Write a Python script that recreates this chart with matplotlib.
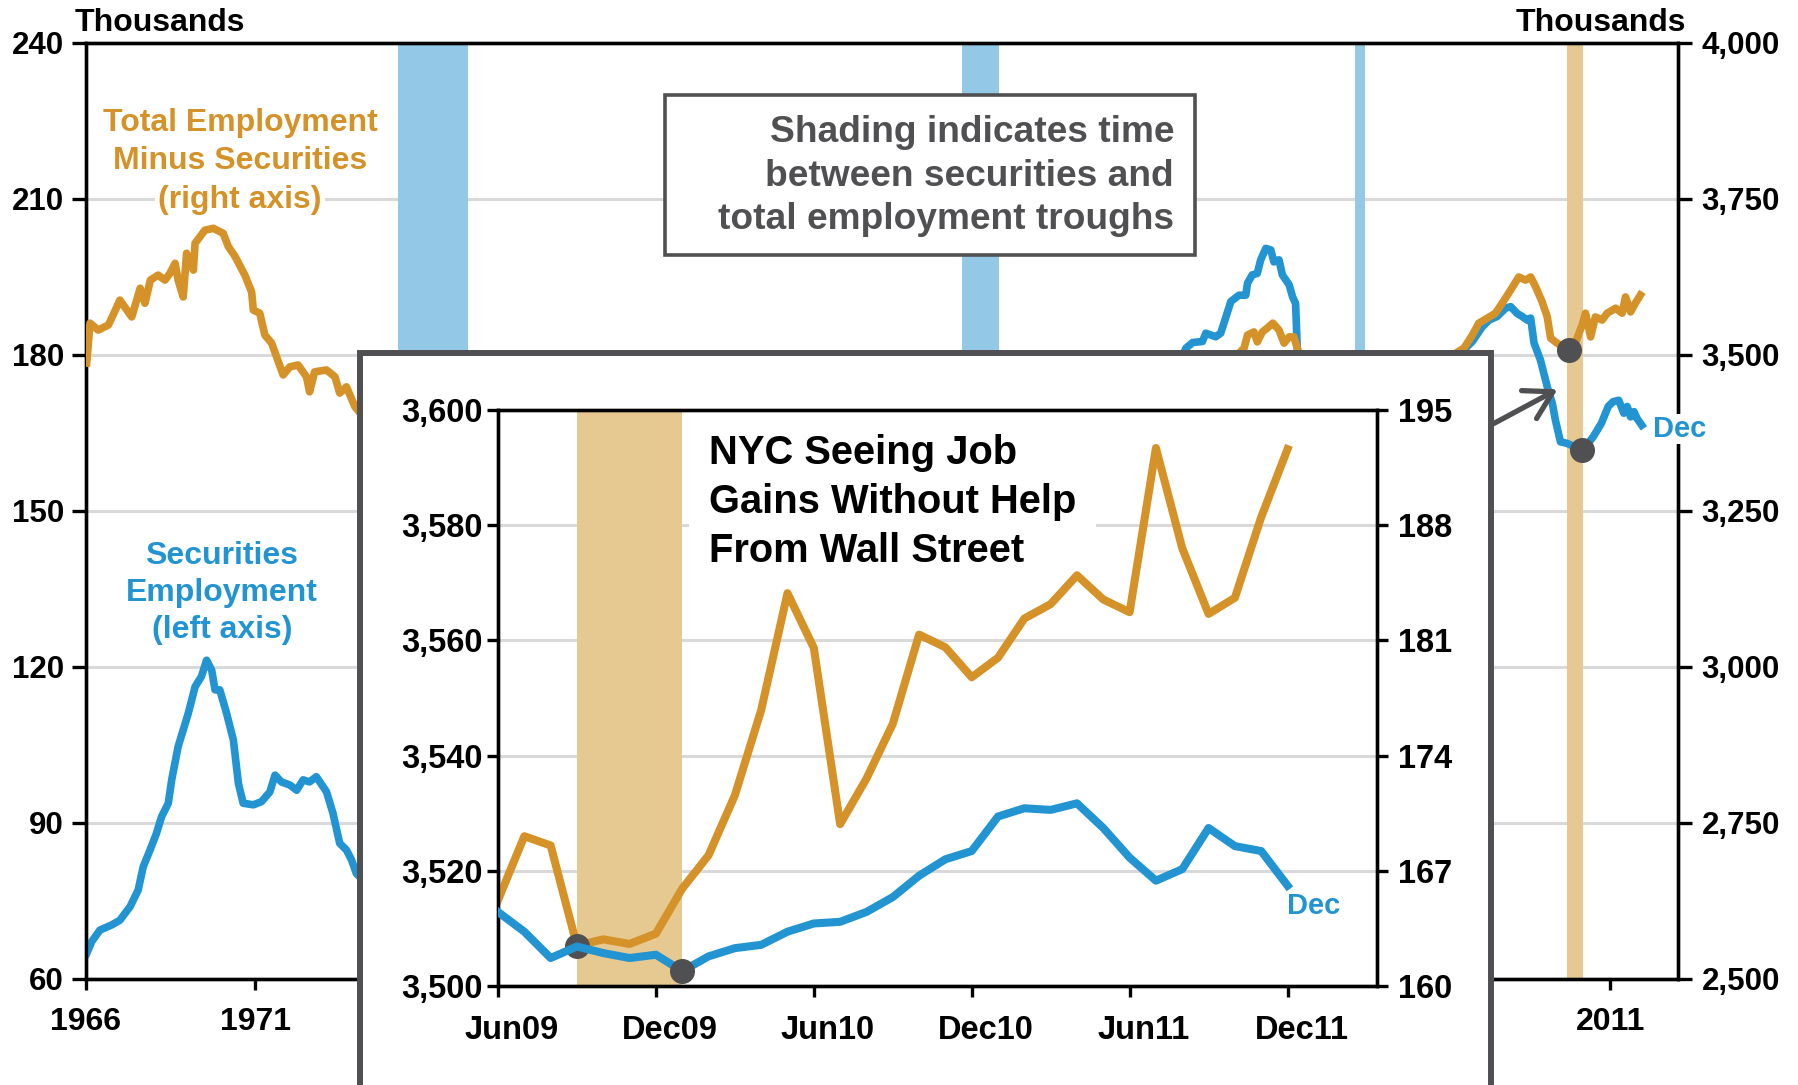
import numpy as np
import matplotlib.pyplot as plt
from matplotlib.patches import Rectangle, FancyArrowPatch
from matplotlib.ticker import FuncFormatter
from matplotlib.transforms import ScaledTranslation

plt.rcParams['font.family'] = ['Liberation Sans', 'DejaVu Sans']
plt.rcParams['font.weight'] = 'bold'

## --- main chart: securities employment (left axis, thousands) ---
sec_years = [1966.02, 1966.17, 1966.41, 1966.76, 1967.00, 1967.30, 1967.54, 1967.69, 1967.89,
             1968.08, 1968.23, 1968.43, 1968.53, 1968.72, 1969.02, 1969.22, 1969.41, 1969.56,
             1969.71, 1969.81, 1969.95, 1970.15, 1970.35, 1970.50, 1970.64, 1970.94, 1971.18,
             1971.43, 1971.58, 1971.77, 1972.02, 1972.22, 1972.41, 1972.60, 1972.80, 1973.10,
             1973.29, 1973.49, 1973.69, 1973.84, 1973.98,
             1974.5, 1975.2, 1976.0, 1977.0, 1978.0, 1979.0, 1980.0, 1981.0, 1982.0, 1983.0,
             1984.0, 1985.0, 1986.0, 1987.0, 1987.8, 1988.5, 1989.5, 1990.5, 1991.85, 1992.5,
             1993.5, 1994.5, 1995.5, 1996.5, 1997.5, 1998.2,
             1998.47, 1998.67, 1998.96, 1999.06, 1999.35, 1999.50, 1999.80, 2000.04, 2000.24,
             2000.29, 2000.43, 2000.58, 2000.68, 2000.83, 2000.98, 2001.07, 2001.22, 2001.32,
             2001.52, 2001.62, 2001.71, 2001.76,
             2001.9, 2002.5, 2003.45, 2004.5, 2005.5, 2006.3,
             2006.68, 2006.93, 2007.22, 2007.42, 2007.66, 2007.91, 2008.06, 2008.25, 2008.40,
             2008.55, 2008.65, 2008.75, 2008.94, 2009.14, 2009.29, 2009.38, 2009.53, 2009.73,
             2009.93, 2010.17, 2010.31, 2010.50, 2010.74, 2010.94, 2011.08, 2011.25, 2011.40,
             2011.50, 2011.60, 2011.70, 2011.79, 2011.93]
sec_vals = [64.9, 67.2, 69.4, 70.4, 71.3, 73.9, 77.1, 81.6, 84.8,
            88.0, 91.2, 93.8, 98.3, 104.7, 111.1, 116.2, 118.2, 121.3,
            119.4, 115.6, 115.6, 111.1, 106.0, 97.6, 93.8, 93.5, 94.1,
            96.0, 99.2, 97.9, 97.3, 96.3, 98.3, 97.9, 98.9, 96.0,
            91.9, 86.1, 84.8, 82.9, 80.3,
            77, 72, 73, 74, 76, 80, 85, 90, 92, 102,
            108, 117, 135, 155, 162, 148, 142, 136, 130, 134,
            145, 150, 148, 158, 170, 177,
            181.3, 182.4, 182.6, 184.2, 183.5, 184.2, 190.3, 191.5, 191.5,
            193.8, 195.4, 195.7, 198.3, 200.5, 200.2, 197.9, 198.3, 195.4,
            193.5, 191.2, 189.9, 181.3,
            176, 170, 160, 166, 172, 178,
            181.0, 182.6, 185.4, 186.7, 187.4, 189.0, 189.3, 188.0, 187.4,
            186.7, 187.1, 182.3, 179.0, 173.9, 170.7, 167.5, 163.3, 163.0,
            162.4, 161.7, 162.7, 164.3, 166.9, 170.1, 171.0, 171.3, 168.8,
            170.1, 168.1, 169.1, 167.8, 166.5]

## --- main chart: total employment minus securities (right axis, thousands) ---
tot_years = [1966.02, 1966.12, 1966.36, 1966.66, 1966.80, 1967.00, 1967.35, 1967.60, 1967.74,
             1967.90, 1968.13, 1968.33, 1968.48, 1968.63, 1968.72, 1968.87, 1968.97, 1969.17,
             1969.22, 1969.51, 1969.76, 1970.05, 1970.20, 1970.40, 1970.69, 1970.89, 1970.94,
             1971.13, 1971.28, 1971.48, 1971.82, 1972.02, 1972.26, 1972.51, 1972.60, 1972.75,
             1973.10, 1973.35, 1973.49, 1973.69, 1973.94,
             1974.5, 1975.5, 1976.5, 1977.3, 1978.0, 1979.0, 1980.0, 1981.0, 1982.0, 1983.0,
             1984.0, 1985.0, 1986.0, 1987.0, 1988.0, 1989.0, 1990.0, 1991.0, 1992.9, 1994.0,
             1995.0, 1996.0, 1997.0, 1998.0, 1999.0, 1999.8,
             2000.19, 2000.29, 2000.48, 2000.58, 2000.73, 2000.87, 2001.04, 2001.22, 2001.37,
             2001.52, 2001.66, 2001.76,
             2002.0, 2003.0, 2003.8, 2005.0, 2006.2,
             2006.68, 2006.93, 2007.12, 2007.37, 2007.61, 2007.81, 2008.00, 2008.15, 2008.30,
             2008.50, 2008.65, 2008.80, 2008.99, 2009.14, 2009.24, 2009.43, 2009.68, 2009.78,
             2009.98, 2010.17, 2010.27, 2010.42, 2010.56, 2010.76, 2010.91, 2011.16, 2011.35,
             2011.45, 2011.60, 2011.74, 2011.89]
tot_vals = [3487, 3551, 3540, 3548, 3564, 3588, 3561, 3607, 3583,
            3620, 3628, 3620, 3631, 3647, 3620, 3593, 3663, 3636,
            3679, 3700, 3703, 3695, 3674, 3658, 3628, 3601, 3572,
            3567, 3532, 3519, 3468, 3481, 3484, 3465, 3441, 3473,
            3476, 3465, 3439, 3449, 3417,
            3380, 3280, 3200, 3165, 3180, 3220, 3250, 3275, 3270, 3285,
            3320, 3350, 3380, 3405, 3420, 3430, 3410, 3310, 3210, 3240,
            3265, 3295, 3340, 3390, 3450, 3490,
            3511, 3532, 3537, 3521, 3537, 3543, 3551, 3540, 3519,
            3529, 3529, 3511,
            3470, 3430, 3420, 3460, 3495,
            3511, 3532, 3551, 3559, 3567, 3583, 3599, 3612, 3625,
            3620, 3625, 3609, 3585, 3561, 3527, 3519, 3511, 3508,
            3521, 3548, 3567, 3529, 3561, 3556, 3567, 3575, 3567,
            3593, 3569, 3583, 3596]

## troughs marked with dots
trough_tot = (2009.78, 3508)
trough_sec = (2010.17, 161.7)

## shading (start, end) in years
blue_bands = [(1975.2, 1977.27), (1991.85, 1992.96), (2003.45, 2003.76)]
tan_bands = [(2009.72, 2010.19)]

## x tick labels (the ones in between sit under the inset)
main_xticks = [1966, 1971, 1976, 1981, 1986, 1991, 1996, 2001, 2006, 2011]
main_xlabels = ['1966', '1971', '', '', '', '', '', '', '', '2011']

## --- inset: Jun09 - Dec11 monthly ---
inset_months = ['Jun09', 'Jul09', 'Aug09', 'Sep09', 'Oct09', 'Nov09', 'Dec09',
                'Jan10', 'Feb10', 'Mar10', 'Apr10', 'May10', 'Jun10', 'Jul10', 'Aug10',
                'Sep10', 'Oct10', 'Nov10', 'Dec10', 'Jan11', 'Feb11', 'Mar11', 'Apr11',
                'May11', 'Jun11', 'Jul11', 'Aug11', 'Sep11', 'Oct11', 'Nov11', 'Dec11']
inset_tot = [3514.9, 3526.0, 3524.4, 3507.0, 3508.1, 3507.3, 3509.1, 3516.9, 3522.7,
             3533.1, 3547.9, 3568.2, 3558.7, 3528.1, 3536.0, 3545.5, 3561.0, 3558.8,
             3553.6, 3557.0, 3563.8, 3566.3, 3571.3, 3567.1, 3564.9, 3593.4, 3576.0,
             3564.6, 3567.4, 3581.4, 3593.2]
inset_sec = [164.5, 163.3, 161.7, 162.4, 162.0, 161.7, 161.9, 160.9, 161.8,
             162.3, 162.5, 163.3, 163.8, 163.9, 164.5, 165.4, 166.7, 167.7,
             168.2, 170.3, 170.8, 170.7, 171.1, 169.6, 167.8, 166.4, 167.1,
             169.6, 168.5, 168.2, 166.1]
inset_trough_tot = 3     # Sep09
inset_trough_sec = 7     # Jan10
inset_band = (3, 7)

ORANGE = '#D49228'
BLUE = '#2394D2'
LBLUE = '#93C8E6'
TAN = '#E6C891'
DARK = '#505052'
GRID = '#d9d9d9'

W, H = 1798, 1085


def fx(x):
    return x / W


def fy(y):
    return 1 - y / H


comma = FuncFormatter(lambda v, p: f'{int(v):,}')

fig = plt.figure(figsize=(W / 100, H / 100), dpi=100)

# ---------------- main chart ----------------
ax = fig.add_axes([fx(86), fy(979), (1678 - 86) / W, (979 - 43) / H])
ax2 = ax.twinx()

for a, b in blue_bands:
    ax.axvspan(a, b, color=LBLUE, lw=0, zorder=1)
for a, b in tan_bands:
    ax.axvspan(a, b, color=TAN, lw=0, zorder=1)

ax.plot(sec_years, sec_vals, color=BLUE, lw=5.5, solid_joinstyle='round', zorder=3)
ax2.plot(tot_years, tot_vals, color=ORANGE, lw=5.5, solid_joinstyle='round', zorder=3)
ax.plot(*trough_sec, 'o', ms=17, color=DARK, zorder=6, clip_on=False)
ax2.plot(*trough_tot, 'o', ms=17, color=DARK, zorder=6, clip_on=False)

ax.set_xlim(1966, 2013)
ax.set_ylim(60, 240)
ax2.set_ylim(2500, 4000)
ax.set_xticks(main_xticks)
ax.set_xticklabels(main_xlabels)
ax.set_yticks(np.arange(60, 241, 30))
ax2.set_yticks(np.arange(2500, 4001, 250))
ax2.yaxis.set_major_formatter(comma)
ax.yaxis.grid(True, color=GRID, lw=2.2)
ax.set_axisbelow(True)

for a in (ax, ax2):
    for s in a.spines.values():
        s.set_linewidth(2.4)
        s.set_color('black')
ax.tick_params(axis='y', length=10, width=2.4, pad=6, labelsize=22.5)
ax.tick_params(axis='x', length=8, width=2.4, pad=12, labelsize=23)
ax2.tick_params(axis='y', length=10, width=2.4, pad=7, labelsize=22.5)

ax2.text(fx(75), fy(23), 'Thousands', transform=fig.transFigure, fontsize=23,
         ha='left', va='center')
ax2.text(fx(1686), fy(23), 'Thousands', transform=fig.transFigure, fontsize=23,
         ha='right', va='center')

for i, line in enumerate(['Total Employment', 'Minus Securities', '(right axis)']):
    ax2.text(fx(240), fy(123 + 38.5 * i), line, transform=fig.transFigure, fontsize=23,
             color=ORANGE, ha='center', va='center', zorder=7,
             bbox=dict(facecolor='white', edgecolor='none', pad=2))
ax2.text(fx(222), fy(593), 'Securities\nEmployment\n(left axis)', transform=fig.transFigure,
         fontsize=23, color=BLUE, ha='center', va='center', linespacing=1.3, zorder=7)

ax2.add_patch(Rectangle((fx(665), fy(255)), (1195 - 665) / W, (255 - 95) / H,
                        transform=fig.transFigure, facecolor='white', edgecolor=DARK,
                        lw=2.6, zorder=7, clip_on=False))
ax2.text(fx(1174), fy(176), 'Shading indicates time\nbetween securities and\ntotal employment troughs',
         transform=fig.transFigure, fontsize=26.7, color=DARK, ha='right', va='center',
         multialignment='right', linespacing=1.32, zorder=8)

ax2.text(fx(1653), fy(429), 'Dec', transform=fig.transFigure, fontsize=21, color=BLUE,
         ha='left', va='center', zorder=8,
         bbox=dict(facecolor='white', edgecolor='none', pad=1))

# ---------------- inset ----------------
fig.add_artist(Rectangle((fx(359.5), fy(1110)), (1490.5 - 359.5) / W, (1110 - 352.5) / H,
                         transform=fig.transFigure, facecolor='white', edgecolor=DARK,
                         lw=4.3, zorder=4))
fig.add_artist(FancyArrowPatch((fx(1491), fy(425)), (fx(1560), fy(388)),
                               transform=fig.transFigure, color=DARK, lw=3.8,
                               arrowstyle='->,head_length=0.65,head_width=0.38',
                               mutation_scale=30, zorder=4.5))

axi = fig.add_axes([fx(498), fy(986), (1377 - 498) / W, (986 - 410) / H], zorder=5)
axi2 = axi.twinx()
axi2.set_zorder(6)
axi2.patch.set_visible(False)

mi = np.arange(len(inset_months))
axi.axvspan(*inset_band, color=TAN, lw=0, zorder=1)
axi.plot(mi, inset_tot, color=ORANGE, lw=5.8, solid_joinstyle='round', zorder=3)
axi2.plot(mi, inset_sec, color=BLUE, lw=5.8, solid_joinstyle='round', zorder=3)
axi.plot(mi[inset_trough_tot], inset_tot[inset_trough_tot], 'o', ms=17, color=DARK,
         zorder=6, clip_on=False)
axi2.plot(mi[inset_trough_sec], inset_sec[inset_trough_sec], 'o', ms=17, color=DARK,
          zorder=6, clip_on=False)

axi.set_xlim(0, 33.4)
axi.set_ylim(3500, 3600)
axi2.set_ylim(160, 195)
axi.set_xticks(mi[::6])
axi.set_xticklabels([inset_months[i] for i in mi[::6]])
axi.set_yticks(np.arange(3500, 3601, 20))
axi2.set_yticks(np.arange(160, 196, 7))
axi.yaxis.set_major_formatter(comma)
axi.yaxis.grid(True, color=GRID, lw=2.2)
axi.set_axisbelow(True)

for a in (axi, axi2):
    for s in a.spines.values():
        s.set_linewidth(2.4)
        s.set_color('black')
axi.tick_params(axis='y', length=8, width=2.4, pad=3, labelsize=23.5)
axi.tick_params(axis='x', length=8, width=2.4, pad=13, labelsize=23.5)
axi2.tick_params(axis='y', length=8, width=2.4, pad=7, labelsize=23.5)

# inset month labels sit a little right of their ticks
shift = ScaledTranslation(0.14, 0, fig.dpi_scale_trans)
for lbl in axi.get_xticklabels():
    lbl.set_transform(lbl.get_transform() + shift)

# title sits under the lines so its white box only hides the gridline
axi.text(fx(709), fy(502), 'NYC Seeing Job\nGains Without Help\nFrom Wall Street',
         transform=fig.transFigure, fontsize=28.7, color='black', ha='left', va='center',
         linespacing=1.36, zorder=2,
         bbox=dict(facecolor='white', edgecolor='none', pad=14))
axi2.text(fx(1287), fy(906), 'Dec', transform=fig.transFigure, fontsize=21, color=BLUE,
          ha='left', va='center', zorder=7)

fig.savefig('out.png', dpi=100)
